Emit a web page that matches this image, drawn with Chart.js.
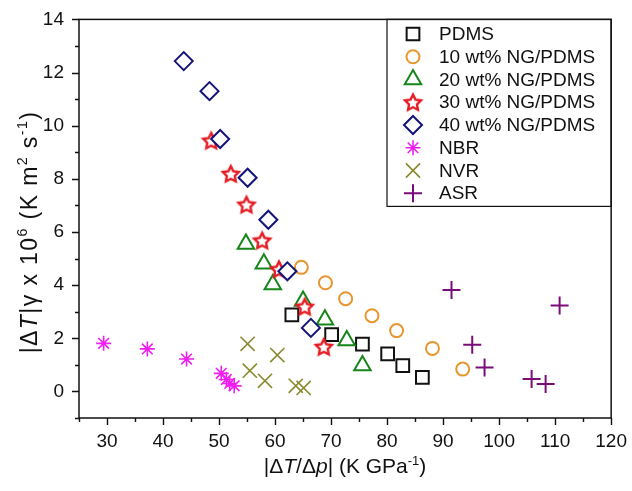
<!DOCTYPE html>
<html>
<head>
<meta charset="utf-8">
<script src="https://cdn.jsdelivr.net/npm/chart.js@4.4.0/dist/chart.umd.min.js"></script>
<style>
  html, body { margin: 0; padding: 0; background: #fff; }
</style>
</head>
<body>
<canvas id="chart" width="632" height="491"></canvas>
<script>
const FONT = 'Arial, "Liberation Sans", sans-serif';

// |dT/dp| (K GPa^-1) and |dT|gamma x 10^6 for each material
const labels = ["PDMS", "10 wt% NG/PDMS", "20 wt% NG/PDMS", "30 wt% NG/PDMS", "40 wt% NG/PDMS", "NBR", "NVR", "ASR"];

const pdmsX = [63.0, 70.1, 75.6, 80.1, 82.8, 86.3];
const pdmsY = [2.88, 2.14, 1.78, 1.41, 0.97, 0.53];

const ng10X = [64.7, 69.0, 72.6, 77.3, 81.7, 88.1, 93.5];
const ng10Y = [4.67, 4.09, 3.49, 2.85, 2.29, 1.62, 0.84];

const ng20X = [54.8, 58.0, 59.6, 65.0, 68.9, 72.8, 75.6];
const ng20Y = [5.55, 4.80, 4.02, 3.40, 2.70, 1.92, 0.98];

const ng30X = [48.6, 52.1, 54.9, 57.7, 60.7, 65.3, 68.7];
const ng30Y = [9.44, 8.19, 7.03, 5.68, 4.60, 3.19, 1.68];

const ng40X = [43.7, 48.3, 50.2, 55.1, 58.8, 62.2, 66.4];
const ng40Y = [12.43, 11.30, 9.50, 8.04, 6.46, 4.52, 2.39];

const nbrX = [29.4, 37.2, 44.2, 50.4, 51.3, 51.9, 52.7];
const nbrY = [1.81, 1.60, 1.22, 0.68, 0.45, 0.30, 0.21];

const nvrX = [55.1, 60.4, 55.5, 58.2, 63.7, 65.1];
const nvrY = [1.79, 1.37, 0.78, 0.40, 0.21, 0.13];

const asrX = [91.5, 95.2, 97.4, 105.8, 108.3, 110.8];
const asrY = [3.82, 1.76, 0.90, 0.47, 0.28, 3.23];

const xTickValues = [30, 40, 50, 60, 70, 80, 90, 100, 110, 120];
const yTickValues = [0, 2, 4, 6, 8, 10, 12, 14];

// hollow five-point star, used as a point image
function makeStar(color) {
  const c = document.createElement('canvas');
  c.width = 22; c.height = 22;
  const g = c.getContext('2d');
  g.beginPath();
  for (let k = 0; k < 10; k++) {
    const r = k % 2 === 0 ? 8.4 : 4.2;
    const a = -Math.PI / 2 + k * Math.PI / 5;
    const px = 11 + r * Math.cos(a), py = 11.8 + r * Math.sin(a);
    if (k === 0) g.moveTo(px, py); else g.lineTo(px, py);
  }
  g.closePath();
  g.fillStyle = '#fff';
  g.fill();
  g.lineWidth = 2.4;
  g.strokeStyle = color;
  g.stroke();
  return c;
}

const pts = (xs, ys) => xs.map((x, i) => ({ x, y: ys[i] }));

const styles = [
  { color: '#111111', style: 'rect', radius: 9, width: 2 },
  { color: '#E8962E', style: 'circle', radius: 6.5, width: 2 },
  { color: '#16861A', style: 'triangle', radius: 9.5, width: 2 },
  { color: '#E51C24', style: makeStar('#E51C24'), radius: 9, width: 2 },
  { color: '#141478', style: 'rectRot', radius: 9, width: 2 },
  { color: '#F01EF0', style: 'star', radius: 7.5, width: 1.6 },
  { color: '#8A8A2E', style: 'crossRot', radius: 10, width: 1.6 },
  { color: '#7A0C7A', style: 'cross', radius: 9, width: 2 }
];

const series = [
  pts(pdmsX, pdmsY), pts(ng10X, ng10Y), pts(ng20X, ng20Y), pts(ng30X, ng30Y),
  pts(ng40X, ng40Y), pts(nbrX, nbrY), pts(nvrX, nvrY), pts(asrX, asrY)
];

const datasets = series.map((data, i) => ({
  label: labels[i],
  data,
  order: 10 - i,
  pointStyle: styles[i].style,
  pointRadius: styles[i].radius,
  pointHoverRadius: styles[i].radius,
  pointBorderWidth: styles[i].width,
  pointHoverBorderWidth: styles[i].width,
  borderColor: styles[i].color,
  backgroundColor: '#ffffff',
  showLine: false
}));

// draw a run of text pieces (italic / superscript) centred on cx
function drawRich(ctx, parts, cx, cy, size, spacing) {
  const fontOf = p => (p.i ? 'italic ' : '') + (p.sup ? size * 0.62 : size) + 'px ' + FONT;
  ctx.letterSpacing = (spacing || 0) + 'px';
  let total = 0;
  parts.forEach(p => { ctx.font = fontOf(p); total += ctx.measureText(p.t).width; });
  let x = cx - total / 2;
  ctx.textBaseline = 'alphabetic';
  ctx.textAlign = 'left';
  parts.forEach(p => {
    ctx.font = fontOf(p);
    ctx.fillText(p.t, x, cy + size * 0.35 - (p.sup ? size * 0.42 : 0));
    x += ctx.measureText(p.t).width;
  });
  ctx.letterSpacing = '0px';
}

const framePlugin = {
  id: 'frame',
  afterDraw(chart) {
    const { ctx, chartArea: a, scales } = chart;
    ctx.save();
    ctx.strokeStyle = '#111';
    ctx.fillStyle = '#111';

    // outward ticks, long on labelled values
    ctx.lineWidth = 1.4;
    ctx.beginPath();
    for (let v = 25; v <= 120; v += 5) {
      const px = Math.round(scales.x.getPixelForValue(v)) + 0.5;
      const len = xTickValues.includes(v) ? 7 : 4;
      ctx.moveTo(px, a.bottom);
      ctx.lineTo(px, a.bottom + len);
    }
    for (let v = -1; v <= 14; v++) {
      const py = Math.round(scales.y.getPixelForValue(v)) + 0.5;
      const len = yTickValues.includes(v) ? 7 : 4;
      ctx.moveTo(a.left, py);
      ctx.lineTo(a.left - len, py);
    }
    ctx.stroke();

    ctx.lineWidth = 1.5;
    ctx.strokeRect(a.left, a.top, a.right - a.left, a.bottom - a.top);

    // legend box
    const lx = 387, ly = a.top, lw = a.right - 387, lh = 187;
    ctx.lineWidth = 1.2;
    ctx.strokeRect(lx, ly, lw, lh);
    ctx.font = '19px ' + FONT;
    ctx.textBaseline = 'middle';
    ctx.textAlign = 'left';
    labels.forEach((name, i) => {
      const y = 34 + i * 22.75;
      ctx.save();
      ctx.strokeStyle = styles[i].color;
      ctx.fillStyle = '#fff';
      ctx.lineWidth = styles[i].width;
      Chart.helpers.drawPoint(ctx, {
        pointStyle: styles[i].style,
        radius: styles[i].radius,
        borderWidth: styles[i].width,
        rotation: 0
      }, 413, y);
      ctx.restore();
      ctx.fillStyle = '#111';
      ctx.fillText(name, 439, y + 1);
    });

    // axis titles
    ctx.fillStyle = '#111';
    drawRich(ctx, [
      { t: '|Δ' }, { t: 'T', i: true }, { t: '/Δ' }, { t: 'p', i: true },
      { t: '| (K GPa' }, { t: '-1', sup: true }, { t: ')' }
    ], (a.left + a.right) / 2, 466, 21, 0);

    ctx.save();
    ctx.translate(29, 232);
    ctx.rotate(-Math.PI / 2);
    drawRich(ctx, [
      { t: '|Δ' }, { t: 'T', i: true }, { t: '|γ x 10' }, { t: '6', sup: true },
      { t: ' (K m' }, { t: '2', sup: true }, { t: ' s' }, { t: '-1', sup: true }, { t: ')' }
    ], 0, 0, 23, 1.4);
    ctx.restore();
    ctx.restore();
  }
};

new Chart(document.getElementById('chart'), {
  type: 'scatter',
  data: { datasets },
  options: {
    responsive: false,
    animation: false,
    layout: { padding: { left: 0, top: 19, right: 18, bottom: 0 } },
    plugins: { legend: { display: false }, tooltip: { enabled: false } },
    scales: {
      x: {
        type: 'linear',
        min: 25,
        max: 120,
        afterFit: s => { s.height = 73; },
        border: { display: false },
        grid: { display: true, drawOnChartArea: false, color: 'rgba(0,0,0,0)', tickLength: 7 },
        ticks: {
          stepSize: 5,
          autoSkip: false,
          maxRotation: 0,
          padding: 5,
          color: '#111',
          font: { family: FONT, size: 19 },
          callback: v => (xTickValues.includes(v) ? v : '')
        }
      },
      y: {
        type: 'linear',
        min: -1,
        max: 14,
        afterFit: s => { s.width = 79; },
        border: { display: false },
        grid: { display: true, drawOnChartArea: false, color: 'rgba(0,0,0,0)', tickLength: 7 },
        ticks: {
          stepSize: 1,
          autoSkip: false,
          padding: 8,
          color: '#111',
          font: { family: FONT, size: 19 },
          callback: v => (yTickValues.includes(v) ? v : '')
        }
      }
    }
  },
  plugins: [framePlugin]
});
</script>
</body>
</html>
